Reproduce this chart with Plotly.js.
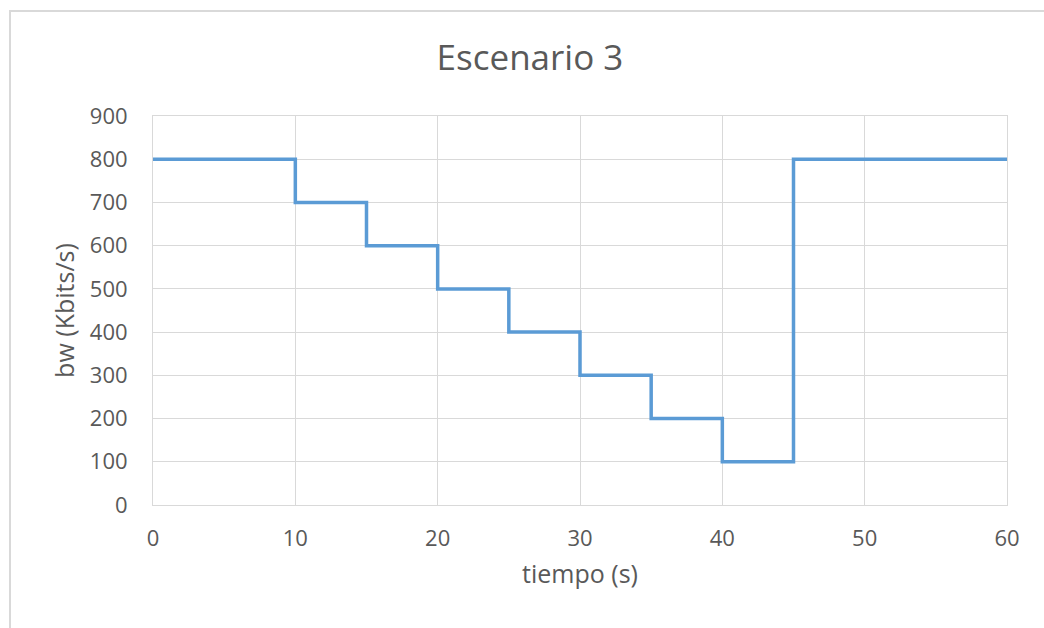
<!DOCTYPE html>
<html>
<head>
<meta charset="utf-8">
<script src="https://cdn.plot.ly/plotly-3.0.1.min.js"></script>
<style>
  html, body { margin: 0; padding: 0; background: #ffffff; }
  #wrap { position: relative; width: 1044px; height: 628px; overflow: hidden; }
  #frame { position: absolute; left: 9px; top: 10px; width: 1100px; height: 700px;
           border-left: 2px solid #d9d9d9; border-top: 2px solid #d9d9d9; box-sizing: border-box; }
  #chart { position: absolute; left: 0; top: 0; width: 1044px; height: 628px; }
</style>
</head>
<body>
<div id="wrap">
  <div id="frame"></div>
  <div id="chart"></div>
</div>
<script>
// Bandwidth schedule: each value holds from its time until the next change
const tiempo = [0, 10, 15, 20, 25, 30, 35, 40, 45, 60];
const bw = [800, 700, 600, 500, 400, 300, 200, 100, 800, 800];
const xTicks = [0, 10, 20, 30, 40, 50, 60];
const yTicks = [0, 100, 200, 300, 400, 500, 600, 700, 800, 900];

const font = "'Open Sans', 'Noto Sans', sans-serif";
const grey = '#595959';
const grid = '#d9d9d9';

const trace = {
  x: tiempo,
  y: bw,
  type: 'scatter',
  mode: 'lines',
  line: { shape: 'hv', color: '#5b9bd5', width: 3.5 },
  hoverinfo: 'x+y'
};

const layout = {
  width: 1044,
  height: 628,
  paper_bgcolor: 'rgba(0,0,0,0)',
  plot_bgcolor: 'rgba(0,0,0,0)',
  margin: { l: 153, r: 37, t: 116, b: 123 },
  showlegend: false,
  title: {
    text: 'Escenario 3',
    font: { family: font, size: 35, color: grey },
    x: 530 / 1044, xref: 'container', xanchor: 'center',
    y: 1 - 58 / 628, yref: 'container', yanchor: 'middle'
  },
  xaxis: {
    range: [0, 60],
    tickvals: xTicks,
    ticktext: xTicks.map(String),
    showgrid: true, gridcolor: grid, gridwidth: 1,
    zeroline: false,
    showline: true, linecolor: grid, linewidth: 1, mirror: true,
    ticks: 'outside', ticklen: 14, tickcolor: 'rgba(0,0,0,0)',
    tickfont: { family: font, size: 22, color: grey },
    title: { text: 'tiempo (s)', font: { family: font, size: 25, color: grey }, standoff: 14 },
    fixedrange: true
  },
  yaxis: {
    range: [0, 900],
    tickvals: yTicks,
    ticktext: yTicks.map(String),
    showgrid: true, gridcolor: grid, gridwidth: 1,
    zeroline: false,
    showline: true, linecolor: grid, linewidth: 1, mirror: true,
    ticks: 'outside', ticklen: 20, tickcolor: 'rgba(0,0,0,0)',
    tickfont: { family: font, size: 22, color: grey },
    title: { text: 'bw (Kbits/s)', font: { family: font, size: 25, color: grey }, standoff: 8 },
    fixedrange: true
  }
};

Plotly.newPlot('chart', [trace], layout, { displayModeBar: false });
</script>
</body>
</html>
